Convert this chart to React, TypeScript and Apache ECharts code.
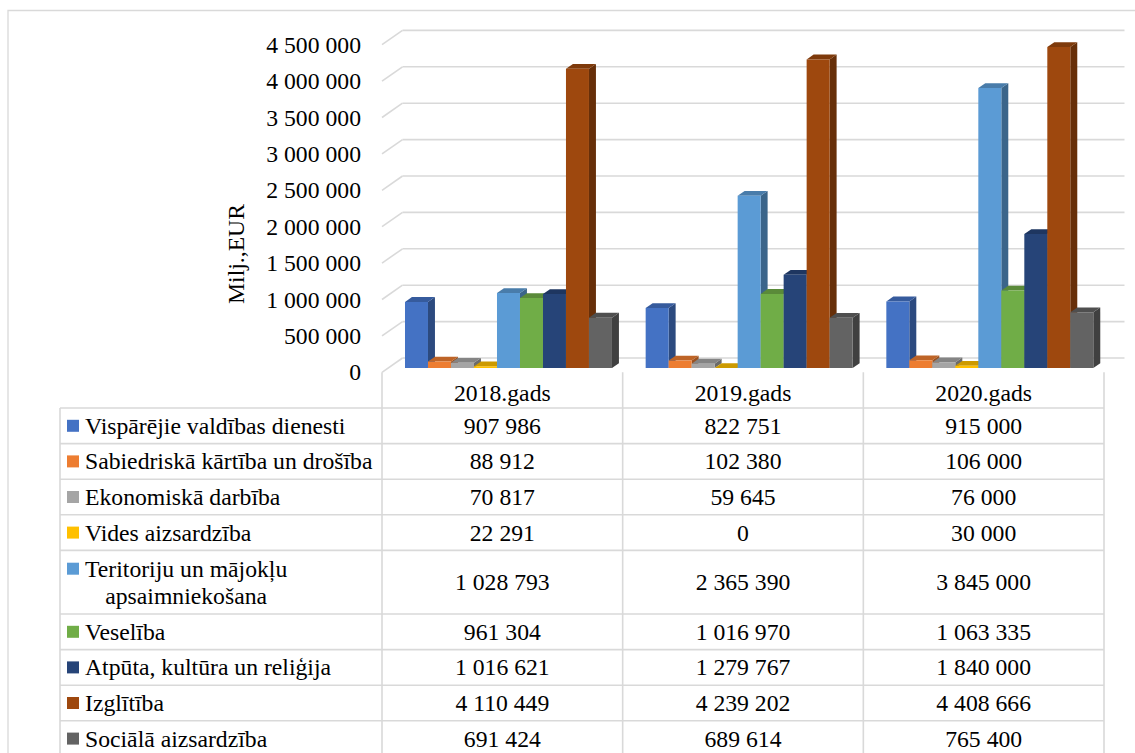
import React, { useEffect, useRef } from "react";
import * as echarts from "echarts";

// ---------- DATA ----------
const CATEGORIES = ["2018.gads", "2019.gads", "2020.gads"];
const SERIES_NAMES = [
  "Vispārējie valdības dienesti",
  "Sabiedriskā kārtība un drošība",
  "Ekonomiskā darbība",
  "Vides aizsardzība",
  "Teritoriju un mājokļu\napsaimniekošana",
  "Veselība",
  "Atpūta, kultūra un reliģija",
  "Izglītība",
  "Sociālā aizsardzība",
];
const VISPAREJIE = [907986, 822751, 915000];
const SABIEDRISKA = [88912, 102380, 106000];
const EKONOMISKA = [70817, 59645, 76000];
const VIDES = [22291, 0, 30000];
const TERITORIJU = [1028793, 2365390, 3845000];
const VESELIBA = [961304, 1016970, 1063335];
const ATPUTA = [1016621, 1279767, 1840000];
const IZGLITIBA = [4110449, 4239202, 4408666];
const SOCIALA = [691424, 689614, 765400];
const SERIES_VALUES = [VISPAREJIE, SABIEDRISKA, EKONOMISKA, VIDES, TERITORIJU, VESELIBA, ATPUTA, IZGLITIBA, SOCIALA];
const Y_MIN = 0;
const Y_MAX = 4500000;
const Y_STEP = 500000;
const Y_TICKS = [0, 500000, 1000000, 1500000, 2000000, 2500000, 3000000, 3500000, 4000000, 4500000];
const Y_NAME = "Milj.,EUR";

// ---------- STYLE / LAYOUT ----------
const COLORS = ["#4472C4", "#ED7D31", "#A5A5A5", "#FFC000", "#5B9BD5", "#70AD47", "#264478", "#9E480E", "#636363"];
const FONT = "Liberation Serif";
const FS = 23.7;
const GRID_COLOR = "#d9d9d9";
const GRID_LEFT = 382;
const GRID_TOP = 44.7;
const GRID_W = 722;
const GRID_H = 327.6;
const DEPTH = [20.5, -14.3];
const BAR_PLANE = 0.3;
const BAR_DEPTH = 0.34;
const GROUP_FRAC = 0.86;
const TABLE_LEFT = 60;
const TABLE_TOP = 408;
const ROW_H = 35.6;
const ROW_H2 = 63.6;

const fmt = (v: number) => Math.round(v).toString().replace(/\B(?=(\d{3})+(?!\d))/g, " ");

function shade(hex: string, f: number) {
  const n = parseInt(hex.slice(1), 16);
  const r = Math.round(((n >> 16) & 255) * f);
  const g = Math.round(((n >> 8) & 255) * f);
  const b = Math.round((n & 255) * f);
  return "rgb(" + r + "," + g + "," + b + ")";
}

function measure(text: string) {
  const c = document.createElement("canvas").getContext("2d");
  if (!c) return text.length * FS * 0.45;
  c.font = FS + "px " + FONT;
  return c.measureText(text).width;
}

export default function App() {
  const ref = useRef<HTMLDivElement>(null);
  useEffect(() => {
    if (!ref.current) return;
    const chart = echarts.init(ref.current, undefined, { renderer: "svg" });
    const n = SERIES_NAMES.length;

    const barSeries = SERIES_VALUES.map((vals, s) => ({
      type: "custom",
      name: SERIES_NAMES[s],
      z: 3,
      data: vals.map((v, i) => [i, v]),
      encode: { x: 0, y: 1 },
      renderItem: (params: any, api: any) => {
        const ci = api.value(0);
        const v = api.value(1);
        const p0 = api.coord([ci, 0]);
        const p1 = api.coord([ci, v]);
        const catW = api.size([1, 0])[0];
        const bw = (catW * GROUP_FRAC) / n;
        const sx = DEPTH[0] * BAR_PLANE;
        const sy = DEPTH[1] * BAR_PLANE;
        const dx = DEPTH[0] * BAR_DEPTH;
        const dy = DEPTH[1] * BAR_DEPTH;
        const x = p0[0] - (catW * GROUP_FRAC) / 2 + s * bw + sx;
        const yb = p0[1] + sy;
        const yt = p1[1] + sy;
        const col = COLORS[s];
        return {
          type: "group",
          children: [
            {
              type: "polygon",
              shape: { points: [[x + bw, yt], [x + bw + dx, yt + dy], [x + bw + dx, yb + dy], [x + bw, yb]] },
              style: { fill: shade(col, 0.65) },
            },
            {
              type: "polygon",
              shape: { points: [[x, yt], [x + bw, yt], [x + bw + dx, yt + dy], [x + dx, yt + dy]] },
              style: { fill: shade(col, 0.8) },
            },
            {
              type: "rect",
              shape: { x, y: yt, width: bw, height: Math.max(0, yb - yt) },
              style: { fill: col },
            },
          ],
        };
      },
    }));

    const gridSeries = {
      type: "custom",
      name: "grid",
      z: 1,
      silent: true,
      data: Y_TICKS.map((v) => [0, v]),
      encode: { x: 0, y: 1 },
      renderItem: (params: any, api: any) => {
        const v = api.value(1);
        const p = api.coord([0, v]);
        const catW = api.size([1, 0])[0];
        const xl = p[0] - catW / 2;
        const xr = xl + catW * CATEGORIES.length;
        const st = { stroke: GRID_COLOR, lineWidth: 1.6, fill: "none" };
        return {
          type: "group",
          children: [
            { type: "line", shape: { x1: xl, y1: p[1], x2: xl + DEPTH[0], y2: p[1] + DEPTH[1] }, style: st },
            { type: "line", shape: { x1: xl + DEPTH[0], y1: p[1] + DEPTH[1], x2: xr + DEPTH[0], y2: p[1] + DEPTH[1] }, style: st },
          ],
        };
      },
    };

    const textStyle = (text: string, align: string) => ({
      text,
      fontSize: FS,
      fontFamily: FONT,
      fill: "#000",
      textAlign: align,
      textVerticalAlign: "middle",
    });

    // table graphics
    const graphics: any[] = [];
    const lineSt = { stroke: GRID_COLOR, lineWidth: 1.6 };
    graphics.push({
      type: "rect",
      shape: { x: 8, y: 10.5, width: 1160, height: 780 },
      style: { fill: "none", stroke: GRID_COLOR, lineWidth: 1.3 },
      silent: true,
    });
    graphics.push({
      type: "text",
      x: 236,
      y: 254,
      rotation: Math.PI / 2,
      style: textStyle(Y_NAME, "center"),
    });
    const colW = GRID_W / CATEGORIES.length;
    const rowTops: number[] = [];
    let y = TABLE_TOP;
    SERIES_NAMES.forEach((name) => {
      rowTops.push(y);
      y += name.includes("\n") ? ROW_H2 : ROW_H;
    });
    rowTops.push(y);
    const tableBottom = y;
    rowTops.forEach((ry) => {
      graphics.push({ type: "line", shape: { x1: TABLE_LEFT, y1: ry, x2: GRID_LEFT + GRID_W, y2: ry }, style: lineSt, silent: true });
    });
    graphics.push({ type: "line", shape: { x1: TABLE_LEFT, y1: TABLE_TOP, x2: TABLE_LEFT, y2: tableBottom }, style: lineSt, silent: true });
    for (let c = 0; c <= CATEGORIES.length; c++) {
      const x = GRID_LEFT + c * colW;
      graphics.push({ type: "line", shape: { x1: x, y1: GRID_TOP + GRID_H, x2: x, y2: tableBottom }, style: lineSt, silent: true });
    }
    SERIES_NAMES.forEach((name, s) => {
      const top = rowTops[s];
      const bottom = rowTops[s + 1];
      const cy = (top + bottom) / 2;
      const lines = name.split("\n");
      const firstCy = lines.length > 1 ? cy - 13.5 : cy;
      graphics.push({
        type: "rect",
        shape: { x: 67, y: firstCy - 6, width: 12, height: 12 },
        style: { fill: COLORS[s] },
        silent: true,
      });
      if (lines.length === 1) {
        graphics.push({ type: "text", x: 85, y: cy, style: textStyle(name, "left") });
      } else {
        const w1 = measure(lines[0]);
        const cx = 85 + w1 / 2;
        lines.forEach((ln, li) => {
          graphics.push({ type: "text", x: cx, y: firstCy + li * 27, style: textStyle(ln, "center") });
        });
      }
      SERIES_VALUES[s].forEach((v, c) => {
        graphics.push({ type: "text", x: GRID_LEFT + (c + 0.5) * colW, y: cy, style: textStyle(fmt(v), "center") });
      });
    });

    chart.setOption({
      animation: false,
      backgroundColor: "#ffffff",
      grid: { left: GRID_LEFT, top: GRID_TOP, width: GRID_W, height: GRID_H, containLabel: false },
      xAxis: {
        type: "category",
        data: CATEGORIES,
        axisLine: { show: false },
        axisTick: { show: false },
        splitLine: { show: false },
        axisLabel: { fontSize: FS, fontFamily: FONT, color: "#000", margin: 9, interval: 0 },
      },
      yAxis: {
        type: "value",
        min: Y_MIN,
        max: Y_MAX,
        interval: Y_STEP,
        axisLine: { show: false },
        axisTick: { show: false },
        splitLine: { show: false },
        axisLabel: { fontSize: FS, fontFamily: FONT, color: "#000", margin: 21, formatter: (v: number) => fmt(v) },
      },
      graphic: graphics,
      series: [gridSeries, ...barSeries],
    });
    return () => chart.dispose();
  }, []);
  return <div ref={ref} style={{ position: "absolute", left: 0, top: 0, width: 1135, height: 753 }} />;
}
